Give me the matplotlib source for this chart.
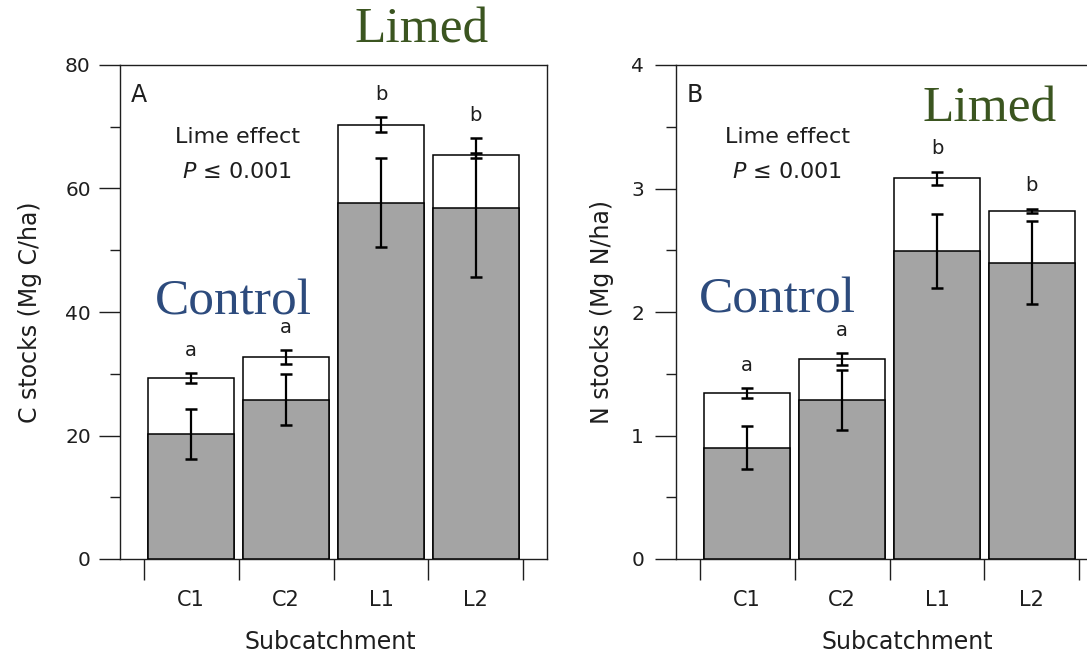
import numpy as np
import matplotlib.pyplot as plt

sites = ["C1", "C2", "L1", "L2"]
letters = ["a", "a", "b", "b"]

# carbon stocks (Mg C/ha): whole bar and grey lower part, with SE
c_total = [29.3, 32.7, 70.3, 65.4]
c_total_se = [0.8, 1.1, 1.2, 0.4]
c_base = [20.2, 25.8, 57.7, 56.9]
c_base_se = [4.05, 4.1, 7.2, 11.3]

# nitrogen stocks (Mg N/ha)
n_total = [1.342, 1.617, 3.083, 2.820]
n_total_se = [0.042, 0.047, 0.054, 0.018]
n_base = [0.901, 1.287, 2.494, 2.40]
n_base_se = [0.175, 0.245, 0.297, 0.333]

W, H = 1087, 655
fig = plt.figure(figsize=(W / 100, H / 100), dpi=100)
axA = fig.add_axes([120 / W, 96 / H, 427 / W, 494 / H])
axB = fig.add_axes([676 / W, 96 / H, 427 / W, 494 / H])

dark = "#1e1e1e"
grey = "#a4a4a4"


def panel(ax, total, total_se, base, base_se, ymax, step, ylabel, tag, ypad):
    x = np.arange(len(sites))
    ax.bar(x, total, width=0.91, color="white", edgecolor="black", linewidth=1.1, zorder=2)
    ax.bar(x, base, width=0.91, color=grey, edgecolor="black", linewidth=1.1, zorder=3)
    for vals, err in ((total, total_se), (base, base_se)):
        ax.errorbar(x, vals, yerr=err, fmt="none", ecolor="black", elinewidth=1.6,
                    capsize=4, capthick=1.8, zorder=4)
    # significance letters sit just above the highest error bar
    off = 0.027 * ymax
    for i in range(len(sites)):
        top = max(total[i] + total_se[i], base[i] + base_se[i])
        ax.text(x[i], top + off, letters[i], ha="center", va="bottom",
                fontsize=14, color=dark)

    ax.set_xlim(-0.75, 3.75)
    ax.set_ylim(0, ymax)
    ax.set_xticks(np.arange(-0.5, 4, 1))
    ax.set_xticklabels([])
    ax.set_xticks(x, minor=True)
    ax.set_xticklabels(sites, minor=True)
    ax.tick_params(axis="x", which="major", length=15, width=1, color=dark)
    ax.tick_params(axis="x", which="minor", length=0, pad=22, labelsize=15, labelcolor=dark)
    ax.set_yticks(np.arange(0, ymax + step / 2, step))
    ax.set_yticks(np.arange(step / 2, ymax, step), minor=True)
    ax.tick_params(axis="y", which="major", length=15, width=1, pad=ypad,
                   labelsize=14.5, color=dark, labelcolor=dark)
    ax.tick_params(axis="y", which="minor", length=7.5, width=1, color=dark)
    for s in ax.spines.values():
        s.set_color(dark)
        s.set_linewidth(1.0)

    ax.set_xlabel("Subcatchment", fontsize=17, color=dark, va="top")
    ax.set_ylabel(ylabel, fontsize=17, color=dark)
    ax.text(0.026, 0.925, tag, transform=ax.transAxes, fontsize=17, color=dark,
            ha="left", va="baseline")


panel(axA, c_total, c_total_se, c_base, c_base_se, 80, 20, "C stocks (Mg C/ha)", "A", 6)
panel(axB, n_total, n_total_se, n_base, n_base_se, 4, 1, "N stocks (Mg N/ha)", "B", 8)

axA.xaxis.set_label_coords(0.493, -0.144)
axB.xaxis.set_label_coords(0.541, -0.144)
axA.yaxis.set_label_coords(-0.183, 0.5)
axB.yaxis.set_label_coords(-0.145, 0.5)

for ax, cx, cy in ((axA, 0.276, 0.842), (axB, 0.262, 0.842)):
    ax.text(cx, cy, "Lime effect", transform=ax.transAxes, fontsize=16, color=dark,
            ha="center", va="baseline")
    ax.text(cx - 0.003, cy - 0.071, "$P$ ≤ 0.001", transform=ax.transAxes, fontsize=16,
            color=dark, ha="center", va="baseline")

serif = ["Liberation Serif", "DejaVu Serif"]
blue = "#2d4b7d"
green = "#3b5520"
axA.text(0.265, 0.494, "Control", transform=axA.transAxes, family=serif, fontsize=37,
         color=blue, ha="center", va="baseline")
axB.text(0.238, 0.498, "Control", transform=axB.transAxes, family=serif, fontsize=37,
         color=blue, ha="center", va="baseline")
axA.text(0.707, 1.045, "Limed", transform=axA.transAxes, family=serif, fontsize=37,
         color=green, ha="center", va="baseline")
axB.text(0.735, 0.885, "Limed", transform=axB.transAxes, family=serif, fontsize=37,
         color=green, ha="center", va="baseline", zorder=5)

fig.savefig("out.png", dpi=100)
